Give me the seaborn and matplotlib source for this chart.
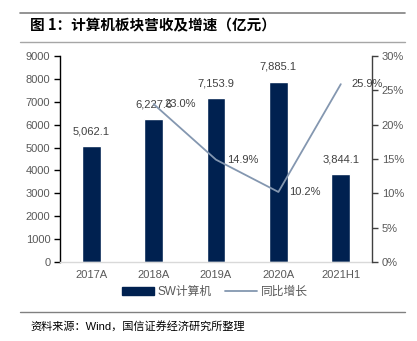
import matplotlib
matplotlib.use("Agg")
import matplotlib.pyplot as plt
import seaborn as sns
import numpy as np
import pandas as pd
from matplotlib.lines import Line2D
from matplotlib.patches import Patch

categories = ["2017A", "2018A", "2019A", "2020A", "2021H1"]
revenue = [5062.1, 6227.6, 7153.9, 7885.1, 3844.1]
growth_cats = ["2018A", "2019A", "2020A", "2021H1"]
growth = [23.0, 14.9, 10.2, 25.9]
left_ticks = [0, 1000, 2000, 3000, 4000, 5000, 6000, 7000, 8000, 9000]
right_ticks = [0, 5, 10, 15, 20, 25, 30]
title = "图 1：计算机板块营收及增速（亿元）"
source = "资料来源：Wind，国信证券经济研究所整理"
bar_name = "SW计算机"
line_name = "同比增长"

sns.set_theme(style="white")
FAM = ["Liberation Sans", "Noto Sans CJK SC", "DejaVu Sans"]
plt.rcParams["font.family"] = FAM

BAR = "#002150"
LINE = "#8497B0"
TXT = "#595959"

fig = plt.figure(figsize=(4.17, 3.41), dpi=100)
ax = fig.add_axes([60/417, 1-262/341, (372-60)/417, (262-56)/341])

df = pd.DataFrame({"cat": categories, "rev": revenue})
sns.barplot(data=df, x="cat", y="rev", color=BAR, width=0.3, ax=ax, saturation=1)
ax.set_xlim(-0.5, 4.5)
ax.set_ylim(0, 9000)
ax.set_yticks(left_ticks)
ax.set_xlabel("")
ax.set_ylabel("")
ax.tick_params(axis="y", colors=TXT, labelsize=8, length=4, width=1, direction="out", left=True, pad=3)
ax.tick_params(axis="y", color="black")
ax.tick_params(axis="x", colors=TXT, labelsize=8, length=0, pad=6)
for s in ["top", "right"]:
    ax.spines[s].set_visible(False)
ax.spines["left"].set_color("black")
ax.spines["left"].set_linewidth(1)
ax.spines["bottom"].set_color("#D9D9D9")
ax.spines["bottom"].set_linewidth(1)

for i, v in enumerate(revenue):
    ax.annotate(f"{v:,.1f}", (i, v), xytext=(0, 7), textcoords="offset points",
                ha="center", va="bottom", fontsize=8, color="#404040")

ax2 = ax.twinx()
gx = [categories.index(c) for c in growth_cats]
sns.lineplot(x=gx, y=growth, ax=ax2, color=LINE, linewidth=1.3)
ax2.set_xlim(-0.5, 4.5)
ax2.set_ylim(0, 30)
ax2.set_yticks(right_ticks)
ax2.set_yticklabels([f"{t}%" for t in right_ticks])
ax2.set_ylabel("")
ax2.tick_params(axis="y", colors=TXT, labelsize=8, length=4, width=1, direction="out", right=True, pad=3)
ax2.tick_params(axis="y", color="#404040")
for s in ["top", "left", "bottom"]:
    ax2.spines[s].set_visible(False)
ax2.spines["right"].set_color("#404040")
ax2.spines["right"].set_linewidth(1)
for x, g in zip(gx, growth):
    ax2.annotate(f"{g:.1f}%", (x, g), xytext=(8, 0), textcoords="offset points",
                 ha="left", va="center", fontsize=8, color="#404040")

handles = [Patch(facecolor=BAR, edgecolor=BAR), Line2D([0], [0], color=LINE, lw=1.3)]
fig.legend(handles, [bar_name, line_name], loc="center", bbox_to_anchor=(0.515, 1-292/341),
           ncol=2, frameon=False, fontsize=8.5, handlelength=2.7, handleheight=0.6,
           columnspacing=1.2, handletextpad=0.3, labelcolor=TXT)

# decoration rules and texts
for yy, col, lw in [(13, "#808080", 1.2), (42, "#A6A6A6", 1.0), (312, "#808080", 1.0)]:
    fig.add_artist(Line2D([20/417, 405/417], [1-yy/341, 1-yy/341], color=col, lw=lw,
                          transform=fig.transFigure))
fig.text(30/417, 1-25/341, title, fontsize=10.5, fontweight="bold", ha="left", va="center",
         color="black", family=["Noto Sans CJK SC", "DejaVu Sans"])
fig.text(30/417, 1-326/341, source, fontsize=8, ha="left", va="center", color="black",
         family=FAM)

fig.savefig("out.png", dpi=100)
